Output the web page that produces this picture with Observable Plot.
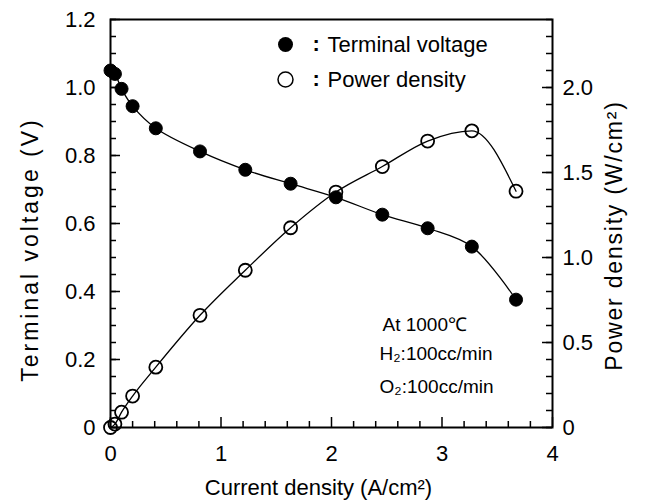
<!DOCTYPE html>
<html>
<head>
<meta charset="utf-8">
<script src="https://cdn.jsdelivr.net/npm/d3@7"></script>
<script src="https://cdn.jsdelivr.net/npm/@observablehq/plot@0.6"></script>
<style>
  html, body { margin: 0; padding: 0; background: #fff; }
  #chart svg { display: block; }
</style>
</head>
<body>
<div id="chart"></div>
<script>
// ---- data ----
const currentDensity = [0, 0.04, 0.1, 0.2, 0.41, 0.81, 1.22, 1.63, 2.04, 2.46, 2.87, 3.27, 3.67];
const terminalVoltage = [1.05, 1.04, 0.996, 0.945, 0.88, 0.812, 0.758, 0.717, 0.677, 0.626, 0.586, 0.532, 0.376];
const powerDensity = [0, 0.02, 0.09, 0.185, 0.355, 0.66, 0.925, 1.175, 1.385, 1.535, 1.685, 1.745, 1.39];

const xTicks = [0, 1, 2, 3, 4];
const xTickLabels = ["0", "1", "2", "3", "4"];
const vTicks = [0, 0.2, 0.4, 0.6, 0.8, 1.0, 1.2];
const vTickLabels = ["0", "0.2", "0.4", "0.6", "0.8", "1.0", "1.2"];
const wTicks = [0, 0.5, 1.0, 1.5, 2.0];
const wTickLabels = ["0", "0.5", "1.0", "1.5", "2.0"];
const xMinorStep = 0.2;
const vMinorStep = 0.05;

const legendLabels = ["Terminal voltage", "Power density"];
const annotationLines = ["At 1000\u2103", "H\u2082:100cc/min", "O\u2082:100cc/min"];
const xTitle = "Current density (A/cm\u00b2)";
const yLeftTitle = "Terminal voltage (V)";
const yRightTitle = "Power density (W/cm\u00b2)";

// power axis (right) is drawn on the voltage scale: 1 V <-> 2 W/cm2
const wToV = 0.5;

const vData = currentDensity.map((x, i) => ({x, v: terminalVoltage[i]}));
const pData = currentDensity.map((x, i) => ({x, w: powerDensity[i]}));

const W = 645, H = 500;
const mL = 110, mR = 93, mT = 19, mB = 73;
const fw = W - mL - mR, fh = H - mT - mB;
const majorLen = 10, minorLen = 6;

const xMinor = d3.range(0, 4 + 1e-9, xMinorStep).filter(d => !xTicks.some(t => Math.abs(t - d) < 1e-9));
const vMinor = d3.range(0, 1.2 + 1e-9, vMinorStep);
const wMajorV = wTicks.map(w => w * wToV);

const font = "'Liberation Sans', Arial, Helvetica, sans-serif";

const chart = Plot.plot({
  width: W, height: H,
  marginLeft: mL, marginRight: mR, marginTop: mT, marginBottom: mB,
  style: {fontFamily: font, fontSize: "22px", background: "#fff", color: "#000"},
  x: {domain: [0, 4]},
  y: {domain: [0, 1.2]},
  marks: [
    // inward ticks
    Plot.tickX(xMinor, {x: d => d, insetTop: fh - minorLen, strokeWidth: 1.5}),
    Plot.tickX(xTicks, {x: d => d, insetTop: fh - majorLen, strokeWidth: 1.5}),
    Plot.tickY(vMinor, {y: d => d, insetRight: fw - minorLen, strokeWidth: 1.5}),
    Plot.tickY(vTicks, {y: d => d, insetRight: fw - majorLen, strokeWidth: 1.5}),
    Plot.tickY(vMinor, {y: d => d, insetLeft: fw - minorLen, strokeWidth: 1.5}),
    Plot.tickY(wMajorV, {y: d => d, insetLeft: fw - majorLen, strokeWidth: 1.5}),
    // axes labels
    Plot.axisX({ticks: xTicks, tickFormat: d => xTickLabels[xTicks.indexOf(d)], tickSize: 0, tickPadding: 18, label: null, fontSize: 22}),
    Plot.axisY({ticks: vTicks, tickFormat: d => vTickLabels[vTicks.indexOf(d)], tickSize: 0, tickPadding: 15, label: null, fontSize: 22}),
    Plot.axisY({anchor: "right", ticks: wMajorV, tickFormat: d => wTickLabels[wMajorV.indexOf(d)], tickSize: 0, tickPadding: 10, label: null, fontSize: 22}),
    Plot.frame({strokeWidth: 2}),
    // axis titles
    Plot.text([xTitle], {text: d => d, frameAnchor: "bottom", dx: -13, dy: 60, textAnchor: "middle", lineAnchor: "middle", fontSize: 22}),
    Plot.text([yLeftTitle], {text: d => d, frameAnchor: "left", dx: -80, dy: 26, rotate: -90, textAnchor: "middle", lineAnchor: "middle", fontSize: 23}),
    Plot.text([yRightTitle], {text: d => d, frameAnchor: "right", dx: 62, dy: 12, rotate: -90, textAnchor: "middle", lineAnchor: "middle", fontSize: 23}),
    // curves
    Plot.line(vData, {x: "x", y: "v", curve: "catmull-rom", stroke: "black", strokeWidth: 1.3}),
    Plot.line(pData, {x: "x", y: d => d.w * wToV, curve: "monotone-x", stroke: "black", strokeWidth: 1.3}),
    // points
    Plot.dot(vData, {x: "x", y: "v", r: 6.5, fill: "black", stroke: "black", strokeWidth: 1}),
    Plot.dot(pData, {x: "x", y: d => d.w * wToV, r: 6.5, fill: "none", stroke: "black", strokeWidth: 1.8}),
    // legend
    Plot.dot([legendLabels[0]], {frameAnchor: "top-left", dx: 175, dy: 25, r: 7.5, fill: "black"}),
    Plot.dot([legendLabels[1]], {frameAnchor: "top-left", dx: 175, dy: 60, r: 7.5, fill: "none", stroke: "black", strokeWidth: 1.5}),
    Plot.text([":"], {text: d => d, frameAnchor: "top-left", dx: 202, dy: 24, fontWeight: "bold", fontSize: 22, lineAnchor: "middle"}),
    Plot.text([":"], {text: d => d, frameAnchor: "top-left", dx: 202, dy: 59, fontWeight: "bold", fontSize: 22, lineAnchor: "middle"}),
    Plot.text([legendLabels[0]], {text: d => d, frameAnchor: "top-left", dx: 217, dy: 25, textAnchor: "start", lineAnchor: "middle", fontSize: 22}),
    Plot.text([legendLabels[1]], {text: d => d, frameAnchor: "top-left", dx: 217, dy: 60, textAnchor: "start", lineAnchor: "middle", fontSize: 22}),
    // annotation
    Plot.text([annotationLines[0]], {text: d => d, frameAnchor: "top-left", dx: 272, dy: 305, textAnchor: "start", lineAnchor: "middle", fontSize: 19}),
    Plot.text([annotationLines[1]], {text: d => d, frameAnchor: "top-left", dx: 269, dy: 334, textAnchor: "start", lineAnchor: "middle", fontSize: 19}),
    Plot.text([annotationLines[2]], {text: d => d, frameAnchor: "top-left", dx: 269, dy: 367, textAnchor: "start", lineAnchor: "middle", fontSize: 19})
  ]
});
// widen the vertical axis titles to the reference's spacing
d3.select(chart).selectAll("text")
  .filter(function () { return this.textContent === yLeftTitle; })
  .attr("letter-spacing", "3px");
d3.select(chart).selectAll("text")
  .filter(function () { return this.textContent === yRightTitle; })
  .attr("letter-spacing", "1.8px");
document.getElementById("chart").appendChild(chart);
</script>
</body>
</html>
